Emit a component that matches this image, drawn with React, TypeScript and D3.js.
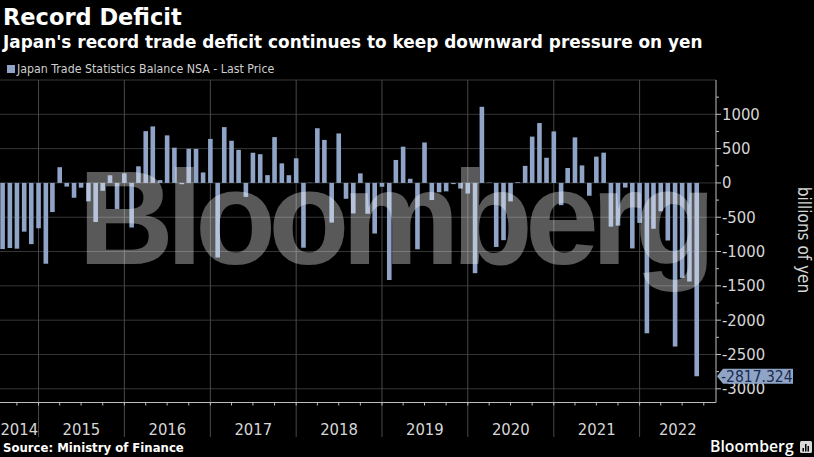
import * as React from 'react';
import * as d3 from 'd3';

const width = 814;
const height = 457;

// monthly balance, billions of yen, first value is Jul 2014
const startYear = 2014;
const startMonth = 6; // July (0-based)
const balance = [
  -964.0, -948.5, -958.3, -710.0, -891.9, -660.7,
  -1177.5, -424.6, 229.3, -53.4, -216.0, -69.1, -268.1, -569.7, -114.5, 111.5, -379.7, 140.3,
  -649.4, 242.2, 754.8, 823.5, 40.7, 693.1, 513.5, -18.7, 498.3, 496.2, 152.5, 641.4,
  -1086.9, 813.4, 614.7, 481.7, -203.4, 439.9, 418.8, 113.6, 667.7, 285.4, 112.6, 359.0,
  -944.1, 3.4, 797.3, 626.7, -578.3, 721.4, -231.2, -444.6, 139.6, -449.3, -737.3, -55.5,
  -1415.2, 334.5, 528.5, 60.4, -967.1, 589.5, -249.6, -136.3, -123.0, -17.2, -82.1, -154.6,
  -1315.2, 1109.8, 4.9, -933.0, -834.1, -268.8, 10.9, 248.3, 675.0, 872.9, 366.8, 750.8,
  -323.9, 217.4, 663.7, 255.3, -187.1, 383.2, 441.0, -637.2, -622.8, -67.8, -954.8, -582.4,
  -2191.1, -668.3, -412.4, -839.2, -2384.7, -1383.8, -1436.8, -2817.324,
];
const years = [2014, 2015, 2016, 2017, 2018, 2019, 2020, 2021, 2022];
const yTicks = [1000, 500, 0, -500, -1000, -1500, -2000, -2500, -3000];
const lastLabel = '-2817.324';

const plot = {left: 0, right: 716, top: 80, bottom: 402.5};
const barColor = '#8fa4c6';
const gridColor = '#363636';
const axisFont = "'Liberation Sans Narrow', 'DejaVu Sans Condensed', 'Liberation Sans', sans-serif";
const boldFont = "'DejaVu Sans', Verdana, sans-serif";

// bloomberg plots a month at its end date
const monthEnd = (i: number) => new Date(startYear, startMonth + i + 1, 1);

export default function App() {
  const x = d3.scaleTime()
    .domain([new Date(2014, 6, 21), new Date(2022, 10, 22)])
    .range([plot.left, plot.right]);
  const y = d3.scaleLinear().domain([-3200, 1500]).range([plot.bottom, plot.top]);

  const barW = 4.6;
  const yearStarts = years.slice(1).map(yr => new Date(yr, 0, 1));
  const quarters = d3.timeMonth.every(3)!.range(x.domain()[0], x.domain()[1]);
  const gridY = d3.range(-3000, 1501, 500);
  const minorY = d3.range(-3000, 1251, 250).filter(v => v % 500 !== 0);

  const yearCenter = (yr: number) => {
    const a = Math.max(plot.left, x(new Date(yr, 0, 1)));
    const b = Math.min(plot.right, x(new Date(yr + 1, 0, 1)));
    return (a + b) / 2;
  };

  const lastY = y(balance[balance.length - 1]);

  return (
    <svg width={width} height={height} style={{position: 'absolute', left: 0, top: 0, background: '#000'}}>
      <rect width={width} height={height} fill="#000"/>

      {/* titles */}
      <text x={3} y={25} fill="#fff" fontFamily={boldFont} fontWeight="bold" fontSize={22.5}>Record Deficit</text>
      <text x={3} y={48} fill="#fff" fontFamily={boldFont} fontWeight="bold" fontSize={16.9}>
        Japan's record trade deficit continues to keep downward pressure on yen
      </text>
      <rect x={7} y={65} width={8} height={8} fill={barColor}/>
      <text x={17} y={73} fill="#cfcfcf" fontFamily={axisFont} fontSize={12.3}>
        Japan Trade Statistics Balance NSA - Last Price
      </text>

      {/* grid */}
      {gridY.map(v => (
        <line key={'gy' + v} x1={plot.left} x2={plot.right} y1={y(v)} y2={y(v)} stroke={gridColor} strokeWidth={1}/>
      ))}
      {yearStarts.map(d => (
        <line key={'gx' + d.getFullYear()} x1={x(d)} x2={x(d)} y1={plot.top} y2={437} stroke={d3.color(gridColor)!.brighter(0.8).toString()} strokeWidth={1}/>
      ))}

      {/* bars */}
      {balance.map((v, i) => {
        const cx = x(monthEnd(i));
        return (
          <rect key={i} x={cx - barW / 2} width={barW}
            y={Math.min(y(v), y(0))} height={Math.abs(y(v) - y(0))} fill={barColor}/>
        );
      })}

      {/* watermark */}
      <text x={78} y={264} fill="#fff" fillOpacity={0.35} fontFamily="'Liberation Sans', Arial, sans-serif"
        fontWeight="bold" fontSize={133} letterSpacing={-8}>Bloomberg</text>

      {/* x axis */}
      <line x1={plot.left} x2={plot.right} y1={plot.bottom} y2={plot.bottom} stroke="#bdbdbd"/>
      {quarters.map(d => (
        <line key={'q' + d.getTime()} x1={x(d)} x2={x(d)} y1={plot.bottom} y2={plot.bottom + 3} stroke="#bdbdbd"/>
      ))}
      {years.map(yr => (
        <text key={'yl' + yr} x={yearCenter(yr)} y={435} fill="#d6d6d6" fontFamily={axisFont}
          fontSize={16.5} textAnchor="middle">{yr}</text>
      ))}

      {/* y axis */}
      <line x1={plot.right} x2={plot.right} y1={plot.top} y2={plot.bottom} stroke="#bdbdbd"/>
      {yTicks.map(v => (
        <g key={'yt' + v}>
          <line x1={plot.right} x2={plot.right + 5} y1={y(v)} y2={y(v)} stroke="#bdbdbd"/>
          <text x={plot.right + 6} y={y(v) + 5.5} fill="#d6d6d6" fontFamily={axisFont} fontSize={16.5}>{v}</text>
        </g>
      ))}
      {minorY.map(v => (
        <line key={'my' + v} x1={plot.right} x2={plot.right + 3} y1={y(v)} y2={y(v)} stroke="#bdbdbd"/>
      ))}
      <text transform={`translate(798,240) rotate(90)`} fill="#d6d6d6" fontFamily={axisFont} fontSize={17}
        textAnchor="middle">billions of yen</text>

      {/* last value tag */}
      <path d={`M${plot.right + 1},${lastY} L${plot.right + 7},${lastY - 7.5} H793 V${lastY + 7.5} H${plot.right + 7} Z`} fill={barColor}/>
      <text x={plot.right + 5} y={lastY + 5.5} fill="#1b2b4d" fontFamily={axisFont} fontSize={15.5}>{lastLabel}</text>

      {/* footer */}
      <text x={3} y={452} fill="#fff" fontFamily={boldFont} fontWeight="bold" fontSize={13} fontStretch="condensed">
        Source: Ministry of Finance
      </text>
      <text x={710} y={452} fill="#fff" fontFamily="'Open Sans', 'Liberation Sans', sans-serif" fontWeight={600} fontSize={15.8}>Bloomberg</text>
      <rect x={800} y={441} width={12} height={12} rx={1.5} fill="#d8d8d8"/>
      <rect x={802.5} y={448} width={1.5} height={3.5} fill="#000"/>
      <rect x={805} y={444} width={1.5} height={7.5} fill="#000"/>
      <rect x={807.5} y={446} width={1.5} height={5.5} fill="#000"/>
    </svg>
  );
}
